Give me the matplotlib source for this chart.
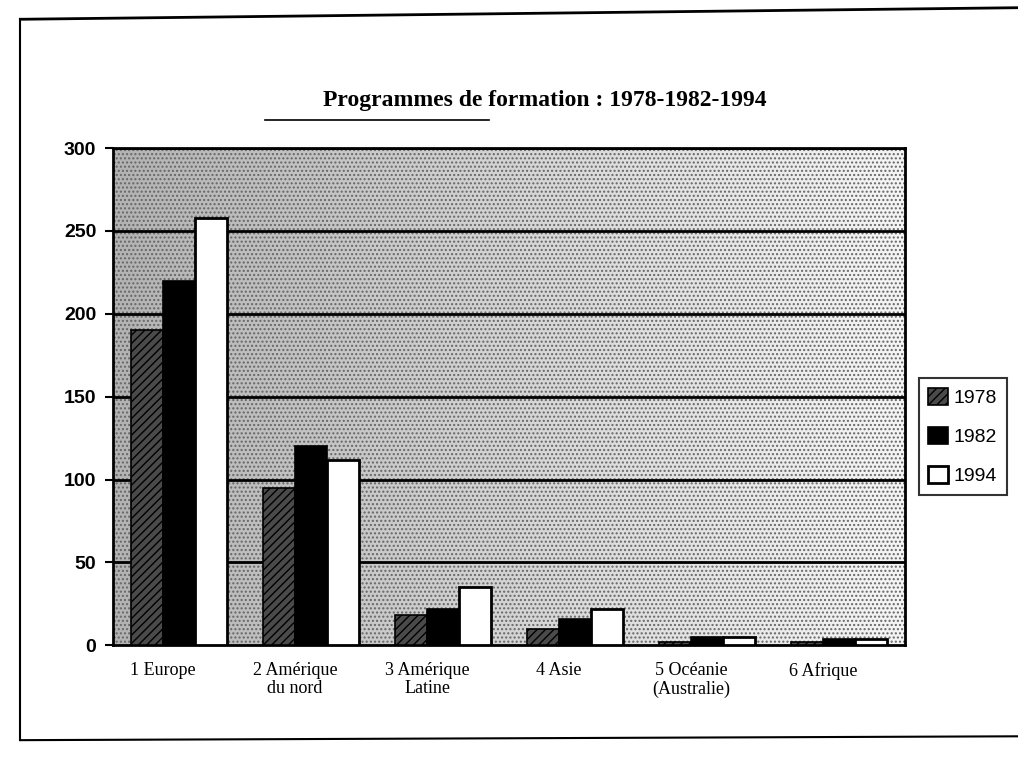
import numpy as np
import matplotlib.pyplot as plt
from matplotlib.patches import Rectangle
from matplotlib.lines import Line2D

regions = ['1 Europe', '2 Amérique\ndu nord', '3 Amérique\nLatine', '4 Asie',
           '5 Océanie\n(Australie)', '6 Afrique']
years = ['1978', '1982', '1994']
v1978 = [190, 95, 18, 10, 2, 2]
v1982 = [220, 120, 22, 16, 5, 4]
v1994 = [258, 112, 35, 22, 5, 4]

fig = plt.figure(figsize=(10.18, 7.71), dpi=100)
ax = fig.add_axes([0.111, 0.163, 0.778, 0.645])

# dotted grey background, darker on the left like the scan
grad = np.linspace(0.70, 0.96, 256).reshape(1, -1)
ax.imshow(grad, cmap='gray', vmin=0, vmax=1, aspect='auto',
          extent=[-0.5, 5.5, 0, 300], zorder=0)
ax.add_patch(Rectangle((-0.5, 0), 6, 300, facecolor='none', edgecolor='#666666',
                       hatch='....', lw=0, zorder=0.5))

x = np.arange(len(regions))
w = 0.24
ax.bar(x - w, v1978, w, facecolor='#4a4a4a', edgecolor='black', hatch='////',
       lw=1.2, zorder=3, label=years[0])
ax.bar(x, v1982, w, facecolor='black', edgecolor='black', lw=1.2, zorder=3,
       label=years[1])
ax.bar(x + w, v1994, w, facecolor='white', edgecolor='black', lw=2, zorder=3,
       label=years[2])

ax.set_xlim(-0.5, 5.5)
ax.set_ylim(0, 300)
ax.set_yticks(range(0, 301, 50))
for yv in range(50, 301, 50):
    ax.axhline(yv, color='black', lw=2, zorder=1)

ax.set_xticks(x - 0.12)
ax.set_xticklabels(regions, family='Liberation Serif', fontsize=13, linespacing=1.1)
ax.tick_params(axis='x', length=0, pad=12)
ax.tick_params(axis='y', length=6, width=1.5, direction='out', pad=6)
for lab in ax.get_yticklabels():
    lab.set_family('Liberation Sans')
    lab.set_fontweight('bold')
    lab.set_fontsize(14)
for s in ax.spines.values():
    s.set_linewidth(2)

fig.text(0.535, 0.87, 'Programmes de formation : 1978-1982-1994',
         ha='center', va='center', family='Liberation Serif', fontweight='bold',
         fontsize=17)
fig.add_artist(Line2D([0.26, 0.48], [0.845, 0.845], color='black', lw=1.2))

leg = ax.legend(loc='center left', bbox_to_anchor=(1.005, 0.42), frameon=True,
                fancybox=False, edgecolor='black', handlelength=1.0,
                handleheight=1.0, handletextpad=0.3, labelspacing=1.0,
                borderpad=0.5, prop={'family': 'Liberation Sans', 'size': 14})
leg.get_frame().set_linewidth(1.5)

# page frame of the scan
fig.add_artist(Line2D([0.02, 1.0], [0.975, 0.99], color='black', lw=2))
fig.add_artist(Line2D([0.02, 0.02], [0.04, 0.975], color='black', lw=1.5))
fig.add_artist(Line2D([0.02, 1.0], [0.04, 0.045], color='black', lw=1.5))

fig.savefig('out.png', dpi=100)
